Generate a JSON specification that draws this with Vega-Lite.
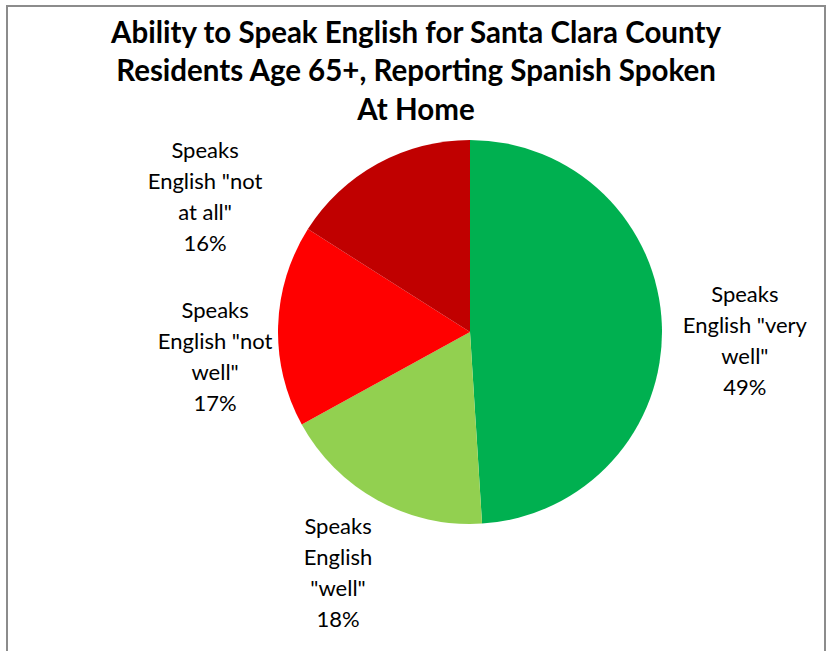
{
  "$schema": "https://vega.github.io/schema/vega-lite/v6.json",
  "width": 818,
  "height": 650,
  "autosize": "none",
  "padding": {"left": 7, "top": 6, "right": 2, "bottom": -5},
  "background": "white",
  "view": {"stroke": "#8c8c8c", "strokeWidth": 2},
  "title": {
    "text": ["Ability to Speak English for Santa Clara County", "Residents Age 65+, Reporting Spanish Spoken", "At Home"],
    "font": "Lato",
    "fontSize": 29.5,
    "fontWeight": "bold",
    "color": "black",
    "anchor": "middle",
    "frame": "group",
    "baseline": "alphabetic",
    "lineHeight": 38.5,
    "offset": -143
  },
  "data": {
    "values": [
      {"category": "Speaks English \"very well\"", "value": 49, "label": "Speaks\nEnglish \"very\nwell\"\n49%"},
      {"category": "Speaks English \"well\"", "value": 18, "label": "Speaks\nEnglish\n\"well\"\n18%"},
      {"category": "Speaks English \"not well\"", "value": 17, "label": "Speaks\nEnglish \"not\nwell\"\n17%"},
      {"category": "Speaks English \"not at all\"", "value": 16, "label": "Speaks\nEnglish \"not\nat all\"\n16%"}
    ]
  },
  "encoding": {
    "theta": {"field": "value", "type": "quantitative", "stack": true},
    "order": {"field": "value", "sort": "descending"}
  },
  "layer": [
    {
      "mark": {"type": "arc", "outerRadius": 192, "xOffset": 54, "yOffset": 1},
      "encoding": {
        "color": {
          "field": "category",
          "type": "nominal",
          "scale": {
            "domain": ["Speaks English \"very well\"", "Speaks English \"well\"", "Speaks English \"not well\"", "Speaks English \"not at all\""],
            "range": ["#00B050", "#92D050", "#FF0000", "#C00000"]
          },
          "legend": null
        }
      }
    },
    {
      "mark": {"type": "text", "radius": 275, "font": "Lato", "fontSize": 22, "lineHeight": 31, "lineBreak": "\n", "align": "center", "baseline": "middle", "color": "black", "dx": 54, "dy": -27},
      "encoding": {"text": {"condition": {"test": "datum.value !== 49", "value": ""}, "field": "label", "type": "nominal"}}
    },
    {
      "mark": {"type": "text", "radius": 275, "font": "Lato", "fontSize": 22, "lineHeight": 31, "lineBreak": "\n", "align": "center", "baseline": "middle", "color": "black", "dx": 54.5, "dy": -45},
      "encoding": {"text": {"condition": {"test": "datum.value !== 18", "value": ""}, "field": "label", "type": "nominal"}}
    },
    {
      "mark": {"type": "text", "radius": 256, "font": "Lato", "fontSize": 22, "lineHeight": 31, "lineBreak": "\n", "align": "center", "baseline": "middle", "color": "black", "dx": 55, "dy": -12},
      "encoding": {"text": {"condition": {"test": "datum.value !== 17", "value": ""}, "field": "label", "type": "nominal"}}
    },
    {
      "mark": {"type": "text", "radius": 298, "font": "Lato", "fontSize": 22, "lineHeight": 31, "lineBreak": "\n", "align": "center", "baseline": "middle", "color": "black", "dx": -67.4, "dy": 81},
      "encoding": {"text": {"condition": {"test": "datum.value !== 16", "value": ""}, "field": "label", "type": "nominal"}}
    }
  ]
}
